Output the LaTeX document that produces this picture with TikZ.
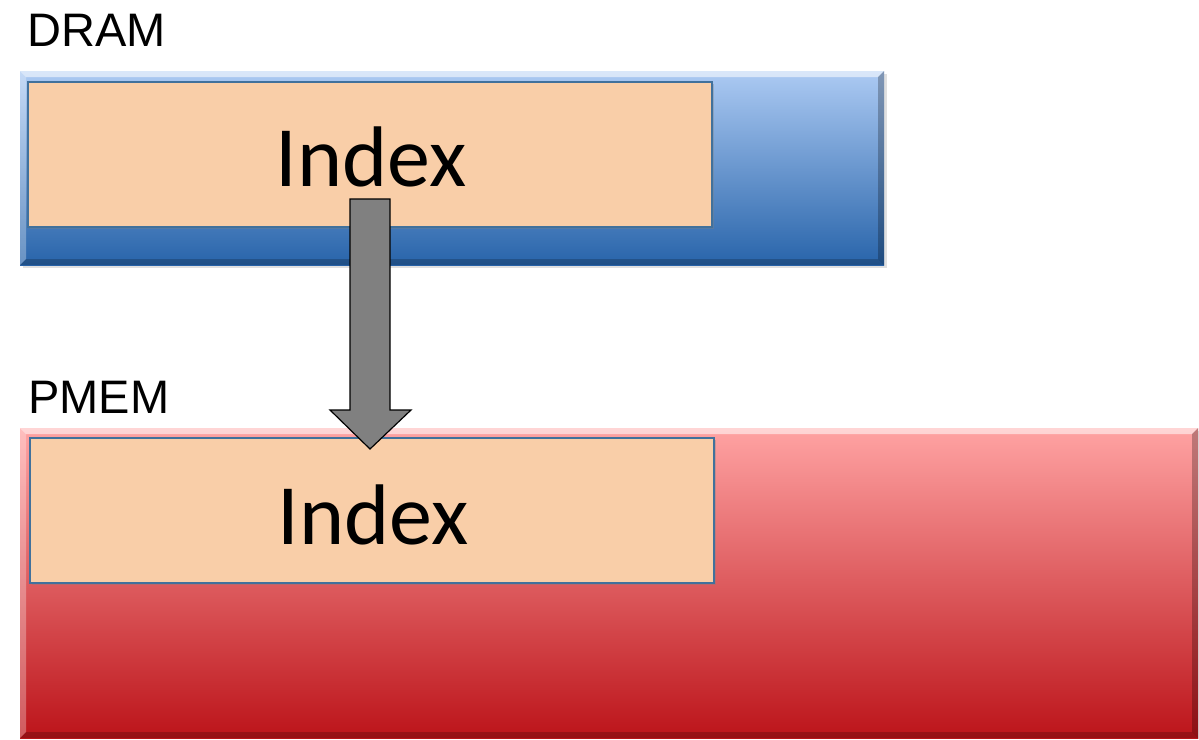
\documentclass[tikz,border=0pt]{standalone}
\usepackage{fontspec}
\setmainfont{Liberation Sans}
\newfontfamily\calib{Carlito}
\usetikzlibrary{shadows}
\definecolor{idxfill}{RGB}{249,206,168}
\definecolor{idxline}{RGB}{65,113,156}
\definecolor{blueTop}{RGB}{172,202,243}
\definecolor{blueMid}{RGB}{140,172,222}
\definecolor{blueBot}{RGB}{40,100,170}
\definecolor{redTop}{RGB}{255,163,163}
\definecolor{redMid}{RGB}{230,128,128}
\definecolor{redBot}{RGB}{188,20,26}
\definecolor{arrowgray}{RGB}{128,128,128}
\tikzset{
  memlabel/.style={anchor=west, inner sep=0pt, font=\fontsize{47}{47}\selectfont},
  idxbox/.style={draw=idxline, line width=1.2pt, fill=idxfill, inner sep=0pt,
    drop shadow={opacity=0.35, shadow xshift=2pt, shadow yshift=-2pt},
    font=\calib\fontsize{86}{86}\selectfont},
  bevlight/.style={fill=white, fill opacity=0.55, draw=none},
  bevdark/.style={fill=black, fill opacity=0.25, draw=none},
  blockarrow/.style={fill=arrowgray, draw=black, line width=1.2pt, line join=miter}
}
\begin{document}
\begin{tikzpicture}[x=1pt,y=-1pt]
\useasboundingbox (0,0) rectangle (1199,739);
\fill[white] (0,0) rectangle (1199,739);
% DRAM
\node[memlabel] (dramlbl) at (27,30) {DRAM};
\fill[black, opacity=0.12] (23,74) rectangle (887,268);
\shade[top color=blueTop, middle color=blueMid, bottom color=blueBot] (20,71) rectangle (884,265);
\node[draw=none, minimum width=864pt, minimum height=194pt, inner sep=0pt] (dram) at (452,168) {};
\fill[bevlight] (20,71) -- (884,71) -- (878,77) -- (26,77) -- cycle;
\fill[bevlight, fill opacity=0.3] (20,71) -- (26,77) -- (26,259) -- (20,265) -- cycle;
\fill[bevdark] (884,71) -- (884,265) -- (878,259) -- (878,77) -- cycle;
\fill[bevdark, fill opacity=0.2] (20,265) -- (884,265) -- (878,259) -- (26,259) -- cycle;
\node[idxbox, minimum width=684pt, minimum height=145pt] (idx1) at (370,154.5) {};
\node[inner sep=0pt, font=\calib\fontsize{86}{86}\selectfont] (idx1t) at (371,157) {Index};
% PMEM
\node[memlabel] (pmemlbl) at (28,397) {PMEM};
\fill[black, opacity=0.12] (23,431) rectangle (1199,739);
\shade[top color=redTop, middle color=redMid, bottom color=redBot] (20,428) rectangle (1198,738);
\node[draw=none, minimum width=1178pt, minimum height=310pt, inner sep=0pt] (pmem) at (609,583) {};
\fill[bevlight] (20,428) -- (1198,428) -- (1192,434) -- (26,434) -- cycle;
\fill[bevlight, fill opacity=0.3] (20,428) -- (26,434) -- (26,732) -- (20,738) -- cycle;
\fill[bevdark] (1198,428) -- (1198,738) -- (1192,732) -- (1192,434) -- cycle;
\fill[bevdark, fill opacity=0.2] (20,738) -- (1198,738) -- (1192,732) -- (26,732) -- cycle;
\node[idxbox, minimum width=684pt, minimum height=145pt] (idx2) at (372,510.5) {};
\node[inner sep=0pt, font=\calib\fontsize{86}{86}\selectfont] (idx2t) at (373,515) {Index};
% block arrow
\coordinate (atop) at (370,199);
\coordinate (atip) at (370,449);
\draw[blockarrow] ([xshift=-20pt]atop) -- ([xshift=20pt]atop) -- (390,410) -- (411,410) -- (atip) -- (330,410) -- (350,410) -- cycle;
\end{tikzpicture}
\end{document}
